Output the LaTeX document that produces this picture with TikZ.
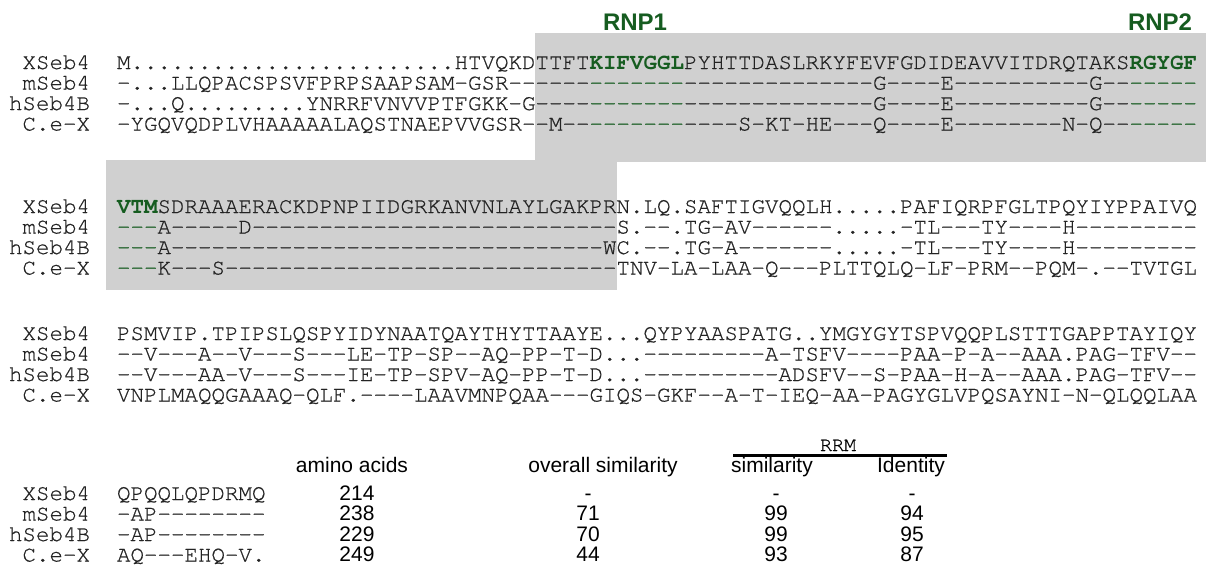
\documentclass[tikz,border=0pt]{standalone}
\usepackage{fontspec}
\setmainfont{Liberation Sans}
\setmonofont{TeX Gyre Cursor}[Ligatures=TeXOff, UprightFeatures={FakeBold=0.6}]
\definecolor{rnp}{RGB}{22,92,32}
\definecolor{shadegray}{RGB}{208,208,208}
\definecolor{seqcol}{RGB}{35,35,35}
\newcommand\gr[1]{{\color{rnp}#1}}
\newcommand\gb[1]{{\color{rnp}\bfseries #1}}
\begin{document}
\begin{tikzpicture}[x=1pt,y=-1pt,
  seq/.style={font=\ttfamily\fontsize{22.5}{22.5}\selectfont, inner sep=0pt, outer sep=0pt, text=seqcol, anchor=base west},
  lab/.style={seq, anchor=base east},
  hdr/.style={font=\fontsize{21}{21}\selectfont, inner sep=0pt, anchor=base},
  num/.style={font=\fontsize{21}{21}\selectfont, inner sep=0pt, anchor=base},
  rnplab/.style={font=\bfseries\fontsize{24}{24}\selectfont, text=rnp, inner sep=0pt, anchor=base},
  shadebox/.style={fill=shadegray, draw=none}]
\useasboundingbox (0,0) rectangle (1206,570);
% shading
\fill[shadebox] (535,33) rectangle (1206,162);
\fill[shadebox] (106,160) rectangle (617,290);
% RNP labels
\node[rnplab] (rnp1) at (635,30) {RNP1};
\node[rnplab] (rnp2) at (1160,30) {RNP2};
% ---------- block 1
\node[lab] (l1a) at (90,69) {XSeb4};
\node[lab] (l1b) at (90,89.5) {mSeb4};
\node[lab] (l1c) at (90,110) {hSeb4B};
\node[lab] (l1d) at (90,130.5) {C.e-X};
\node[seq] (s1a) at (117,69) {M........................HTVQKDTTFT\gb{KIFVGGL}PYHTTDASLRKYFEVFGDIDEAVVITDRQTAKS\gb{RGYGF}};
\node[seq] (s1b) at (117,89.5) {-...LLQPACSPSVFPRPSAAPSAM-GSR------\gr{-------}--------------G----E----------G--\gr{-----}};
\node[seq] (s1c) at (117,110) {-...Q.........YNRRFVNVVPTFGKK-G----\gr{-------}--------------G----E----------G--\gr{-----}};
\node[seq] (s1d) at (117,130.5) {-YGQVQDPLVHAAAAALAQSTNAEPVVGSR--M--\gr{-------}----S-KT-HE---Q----E--------N-Q--\gr{-----}};
% ---------- block 2
\node[lab] (l2a) at (90,213) {XSeb4};
\node[lab] (l2b) at (90,233.5) {mSeb4};
\node[lab] (l2c) at (90,254) {hSeb4B};
\node[lab] (l2d) at (90,274.5) {C.e-X};
\node[seq] (s2a) at (117,213) {\gb{VTM}SDRAAAERACKDPNPIIDGRKANVNLAYLGAKPRN.LQ.SAFTIGVQQLH.....PAFIQRPFGLTPQYIYPPAIVQ};
\node[seq] (s2b) at (117,233.5) {\gr{---}A-----D---------------------------S.--.TG-AV------.....-TL---TY----H---------};
\node[seq] (s2c) at (117,254) {\gr{---}A--------------------------------WC.--.TG-A-------.....-TL---TY----H---------};
\node[seq] (s2d) at (117,274.5) {\gr{---}K---S-----------------------------TNV-LA-LAA-Q---PLTTQLQ-LF-PRM--PQM-.--TVTGL};
% ---------- block 3
\node[lab] (l3a) at (90,340) {XSeb4};
\node[lab] (l3b) at (90,360.5) {mSeb4};
\node[lab] (l3c) at (90,381) {hSeb4B};
\node[lab] (l3d) at (90,401.5) {C.e-X};
\node[seq] (s3a) at (117,340) {PSMVIP.TPIPSLQSPYIDYNAATQAYTHYTTAAYE...QYPYAASPATG..YMGYGYTSPVQQPLSTTTGAPPTAYIQY};
\node[seq] (s3b) at (117,360.5) {--V---A--V---S---LE-TP-SP--AQ-PP-T-D...---------A-TSFV----PAA-P-A--AAA.PAG-TFV--};
\node[seq] (s3c) at (117,381) {--V---AA-V---S---IE-TP-SPV-AQ-PP-T-D...----------ADSFV--S-PAA-H-A--AAA.PAG-TFV--};
\node[seq] (s3d) at (117,401.5) {VNPLMAQQGAAAQ-QLF.----LAAVMNPQAA---GIQS-GKF--A-T-IEQ-AA-PAGYGLVPQSAYNI-N-QLQQLAA};
% ---------- block 4
\node[lab] (l4a) at (90,500) {XSeb4};
\node[lab] (l4b) at (90,520.5) {mSeb4};
\node[lab] (l4c) at (90,541) {hSeb4B};
\node[lab] (l4d) at (90,561.5) {C.e-X};
\node[seq] (s4a) at (117,500) {QPQQLQPDRMQ};
\node[seq] (s4b) at (117,520.5) {-AP--------};
\node[seq] (s4c) at (117,541) {-AP--------};
\node[seq] (s4d) at (117,561.5) {AQ---EHQ-V.};
% ---------- table
\node[font=\ttfamily\fontsize{20}{20}\selectfont, inner sep=0pt, anchor=base] (rrm) at (838,451) {RRM};
\coordinate (rrmL) at (733,455.5);
\coordinate (rrmR) at (947,455.5);
\draw[line width=2.4pt] (rrmL) -- (rrmR);
\node[hdr] (h1) at (352,472) {amino acids};
\node[hdr] (h2) at (603,472) {overall similarity};
\node[hdr] (h3) at (772,472) {similarity};
\node[hdr] (h4) at (911,472) {Identity};
\node[num] (a1) at (357,500) {214};
\node[num] (a2) at (357,520.5) {238};
\node[num] (a3) at (357,541) {229};
\node[num] (a4) at (357,561.5) {249};
\node[num] (o1) at (588,500) {-};
\node[num] (o2) at (588,520.5) {71};
\node[num] (o3) at (588,541) {70};
\node[num] (o4) at (588,561.5) {44};
\node[num] (r1) at (776,500) {-};
\node[num] (r2) at (776,520.5) {99};
\node[num] (r3) at (776,541) {99};
\node[num] (r4) at (776,561.5) {93};
\node[num] (i1) at (912,500) {-};
\node[num] (i2) at (912,520.5) {94};
\node[num] (i3) at (912,541) {95};
\node[num] (i4) at (912,561.5) {87};
\end{tikzpicture}
\end{document}
